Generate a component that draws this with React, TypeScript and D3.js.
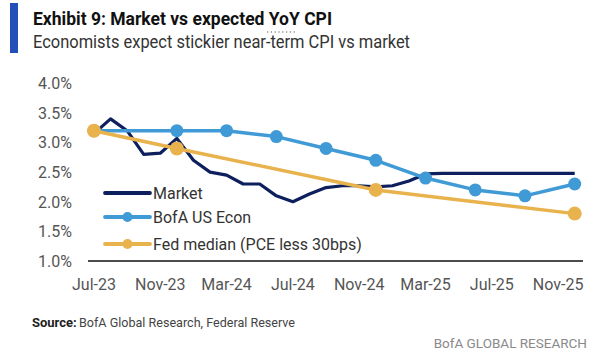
import React from "react";
import * as d3 from "d3";

// ---- Data ----
const months: string[] = [
  "Jul-23","Aug-23","Sep-23","Oct-23","Nov-23","Dec-23",
  "Jan-24","Feb-24","Mar-24","Apr-24","May-24","Jun-24",
  "Jul-24","Aug-24","Sep-24","Oct-24","Nov-24","Dec-24",
  "Jan-25","Feb-25","Mar-25","Apr-25","May-25","Jun-25",
  "Jul-25","Aug-25","Sep-25","Oct-25","Nov-25","Dec-25",
];
const tickLabels: string[] = ["Jul-23","Nov-23","Mar-24","Jul-24","Nov-24","Mar-25","Jul-25","Nov-25"];
const yTicks: number[] = [1.0, 1.5, 2.0, 2.5, 3.0, 3.5, 4.0];

const marketValues: number[] = [
  3.15, 3.4, 3.2, 2.8, 2.82, 3.07,
  2.7, 2.5, 2.45, 2.3, 2.3, 2.1,
  2.0, 2.13, 2.24, 2.27, 2.27, 2.25,
  2.27, 2.35, 2.47, 2.48, 2.48, 2.48,
  2.48, 2.48, 2.48, 2.48, 2.48, 2.48,
];
const bofaMonths: string[] = ["Jul-23","Dec-23","Mar-24","Jun-24","Sep-24","Dec-24","Mar-25","Jun-25","Sep-25","Dec-25"];
const bofaValues: number[] = [3.2, 3.2, 3.2, 3.1, 2.9, 2.7, 2.4, 2.2, 2.1, 2.3];
const fedMonths: string[] = ["Jul-23","Dec-23","Dec-24","Dec-25"];
const fedValues: number[] = [3.2, 2.9, 2.2, 1.8];

const seriesNames: string[] = ["Market", "BofA US Econ", "Fed median (PCE less 30bps)"];

const NAVY = "#0d1f5c";
const BLUE = "#409ad6";
const GOLD = "#e8b24c";
const FONT = "Roboto, 'Noto Sans', sans-serif";

export default function App() {
  const x = d3.scaleLinear().domain([-0.36, 29.5]).range([88, 583]);
  const y = d3.scaleLinear().domain([1.0, 4.0]).range([261, 83.3]);
  const idx = (m: string) => months.indexOf(m);

  const line = d3
    .line<[number, number]>()
    .x((d) => x(d[0]))
    .y((d) => y(d[1]))
    .curve(d3.curveLinear);

  const marketPts: [number, number][] = marketValues.map((v, i) => [i, v]);
  const bofaPts: [number, number][] = bofaValues.map((v, i) => [idx(bofaMonths[i]), v]);
  const fedPts: [number, number][] = fedValues.map((v, i) => [idx(fedMonths[i]), v]);

  const legendX1 = 105;
  const legendX2 = 150;
  const legendYs = [193, 217, 244];
  const legendColors = [NAVY, BLUE, GOLD];

  return (
    <svg
      width={600}
      height={360}
      style={{ position: "absolute", left: 0, top: 0, background: "#fff" }}
      fontFamily={FONT}
    >
      <rect x={0} y={0} width={600} height={360} fill="#fff" />
      {/* accent bar */}
      <rect x={10} y={3} width={8} height={50} fill="#2350b8" />
      {/* title */}
      <text x={33} y={25} fontSize={18} fontWeight={700} fill="#111" textLength={299} lengthAdjust="spacingAndGlyphs">
        Exhibit 9: Market vs expected YoY CPI
      </text>
      <line x1={267} x2={297} y1={32} y2={32} stroke="#555" strokeWidth={1.2} strokeDasharray="1.2,2.6" />
      <text x={33} y={48} fontSize={18} fill="#333" textLength={377} lengthAdjust="spacingAndGlyphs">
        Economists expect stickier near-term CPI vs market
      </text>

      {/* y ticks */}
      {yTicks.map((t) => (
        <text key={t} x={72} y={y(t)} dy="0.36em" textAnchor="end" fontSize={16} fill="#555">
          {t.toFixed(1)}%
        </text>
      ))}

      {/* x axis */}
      <line x1={x(-0.36)} x2={x(29.5)} y1={261} y2={261} stroke="#111" strokeWidth={1.6} />
      {tickLabels.map((t) => (
        <text key={t} x={x(idx(t))} y={290} textAnchor="middle" fontSize={16} fill="#555">
          {t}
        </text>
      ))}

      {/* series */}
      <path d={line(marketPts) || ""} fill="none" stroke={NAVY} strokeWidth={3.2} strokeLinejoin="round" />
      <path d={line(bofaPts) || ""} fill="none" stroke={BLUE} strokeWidth={3.5} strokeLinejoin="round" />
      {bofaPts.map((p, i) => (
        <circle key={"b" + i} cx={x(p[0])} cy={y(p[1])} r={6.5} fill={BLUE} />
      ))}
      <path d={line(fedPts) || ""} fill="none" stroke={GOLD} strokeWidth={3.5} strokeLinejoin="round" />
      {fedPts.map((p, i) => (
        <circle key={"f" + i} cx={x(p[0])} cy={y(p[1])} r={7} fill={GOLD} />
      ))}

      {/* legend */}
      {seriesNames.map((n, i) => (
        <g key={n}>
          <line
            x1={legendX1}
            x2={legendX2}
            y1={legendYs[i]}
            y2={legendYs[i]}
            stroke={legendColors[i]}
            strokeWidth={3.8}
            strokeLinecap="round"
          />
          {i > 0 && <circle cx={(legendX1 + legendX2) / 2} cy={legendYs[i]} r={5} fill={legendColors[i]} />}
          <text x={153} y={legendYs[i]} dy="0.36em" fontSize={16} fill="#333">
            {n}
          </text>
        </g>
      ))}

      {/* source */}
      <text x={32} y={327} fontSize={13} fill="#222" fontWeight={700}>
        Source:
      </text>
      <text x={79} y={327} fontSize={13} fill="#444" textLength={216} lengthAdjust="spacingAndGlyphs">
        BofA Global Research, Federal Reserve
      </text>
      <text x={587} y={348} fontSize={13.5} fill="#8a8a8a" textAnchor="end">
        BofA GLOBAL RESEARCH
      </text>
    </svg>
  );
}
